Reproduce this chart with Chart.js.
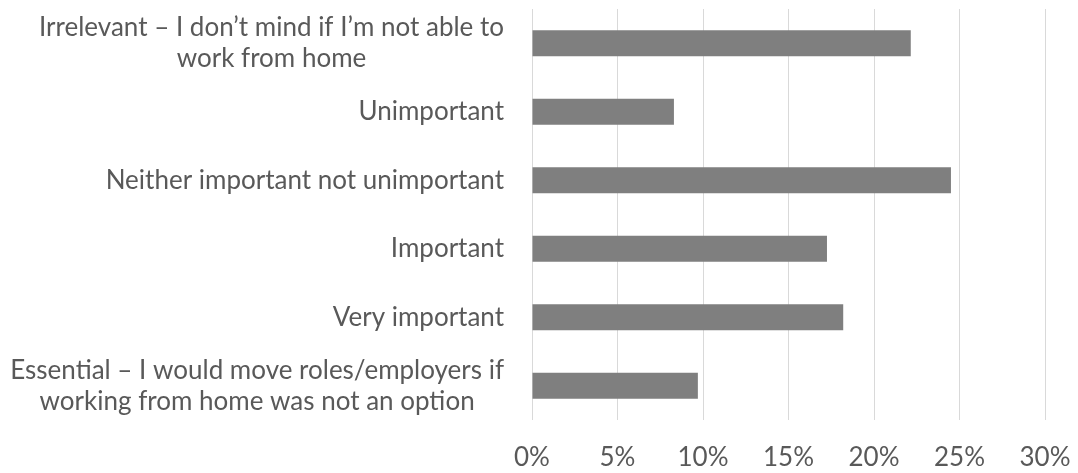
<!DOCTYPE html>
<html>
<head>
  <meta charset="utf-8">
  <title>Working from home importance</title>
  <script src="https://cdn.jsdelivr.net/npm/chart.js"></script>
  <style>
    html, body { margin: 0; padding: 0; background: #fff; }
    #wrap { width: 1078px; height: 473px; }
  </style>
</head>
<body>
  <div id="wrap"><canvas id="chart" width="1078" height="473"></canvas></div>

  <script>
    // answer categories, top to bottom
    const categories = [
      ['Irrelevant \u2013 I don\u2019t mind if I\u2019m not able to', 'work from home'],
      ['Unimportant'],
      ['Neither important not unimportant'],
      ['Important'],
      ['Very important'],
      ['Essential \u2013 I would move roles/employers if', 'working from home was not an option']
    ];
    // share of respondents, %
    const shares = [22.15, 8.3, 24.5, 17.25, 18.2, 9.7];
    const tickValues = [0, 5, 10, 15, 20, 25, 30];

    const textColor = '#595959';
    const fontFamily = 'Lato, "Open Sans", sans-serif';
    const fontSize = 26;

    // category labels: block right-aligned against the axis, lines centred inside it
    const categoryLabels = {
      id: 'categoryLabels',
      afterDraw(chart) {
        const { ctx } = chart;
        const y = chart.scales.y;
        const right = y.right - 28;
        const lineHeight = 31;
        ctx.save();
        ctx.font = `${fontSize}px ${fontFamily}`;
        ctx.fillStyle = textColor;
        ctx.textAlign = 'center';
        ctx.textBaseline = 'middle';
        categories.forEach((lines, i) => {
          const cy = y.getPixelForTick(i);
          const widest = Math.max(...lines.map(l => ctx.measureText(l).width));
          const cx = right - widest / 2;
          const top = cy - (lines.length - 1) * lineHeight / 2;
          lines.forEach((l, j) => ctx.fillText(l, cx, top + j * lineHeight));
        });
        ctx.restore();
      }
    };

    const ctx = document.getElementById('chart').getContext('2d');
    new Chart(ctx, {
      type: 'bar',
      data: {
        labels: categories,
        datasets: [{
          data: shares,
          backgroundColor: '#7f7f7f',
          barPercentage: 0.38,
          categoryPercentage: 1
        }]
      },
      options: {
        indexAxis: 'y',
        responsive: false,
        animation: false,
        layout: { padding: { top: 9, right: 33, bottom: 0, left: 0 } },
        plugins: {
          legend: { display: false },
          tooltip: { enabled: false }
        },
        scales: {
          x: {
            min: 0,
            max: 30,
            afterBuildTicks: scale => { scale.ticks = tickValues.map(v => ({ value: v })); },
            afterFit: scale => {
              scale.height = 53;
              scale.paddingLeft = 0;
              scale.paddingRight = 0;
            },
            border: { display: false },
            grid: { color: '#d9d9d9', lineWidth: 1, drawTicks: false },
            ticks: {
              padding: 22,
              color: textColor,
              font: { family: fontFamily, size: fontSize },
              callback: v => v + '%'
            }
          },
          y: {
            afterFit: scale => { scale.width = 532; },
            border: { display: false },
            grid: { display: false },
            ticks: { display: false }
          }
        }
      },
      plugins: [categoryLabels]
    });
  </script>
</body>
</html>
